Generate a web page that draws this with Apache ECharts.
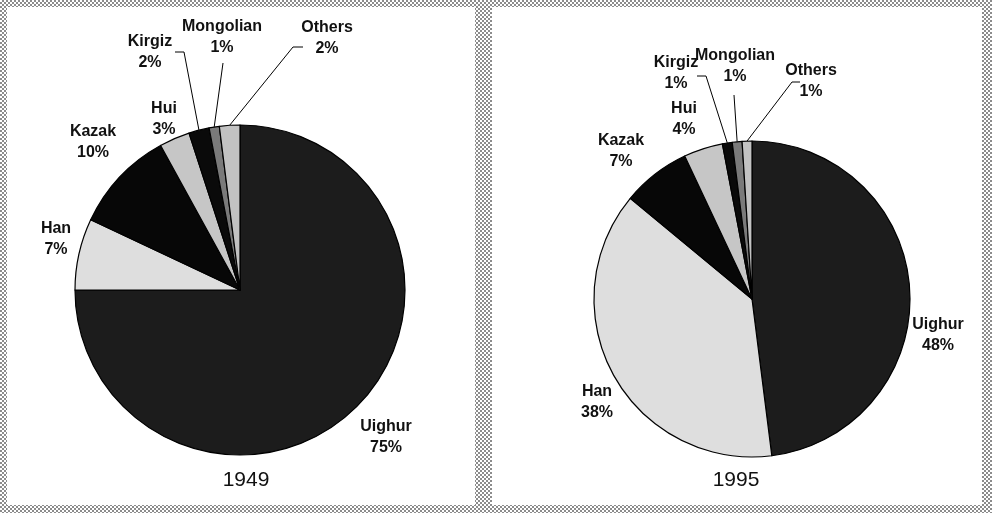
<!DOCTYPE html>
<html>
<head>
<meta charset="utf-8">
<script src="https://cdn.jsdelivr.net/npm/echarts@6/dist/echarts.min.js"></script>
<style>
html,body{margin:0;padding:0;background:#fff;}
#chart{width:992px;height:513px;
background-color:#fff;
background-image:repeating-conic-gradient(#8c8c8c 0% 25%, #ffffff 0% 50%);
background-size:4px 4px;}
</style>
</head>
<body>
<div id="chart"></div>
<script>
// ---- data ----
const categories = ['Uighur', 'Han', 'Kazak', 'Hui', 'Kirgiz', 'Mongolian', 'Others'];
const values1949 = [75, 7, 10, 3, 2, 1, 2];
const values1995 = [48, 38, 7, 4, 1, 1, 1];
const years = ['1949', '1995'];

// ---- styling / layout ----
const sliceColors = ['#1c1c1c', '#dedede', '#070707', '#c6c6c6', '#0a0a0a', '#7a7a7a', '#c2c2c2'];
const leaderLine = [false, false, false, false, true, true, true];
const pieLayout = [
  { center: [240, 290], radius: 165, title: [246, 480] },
  { center: [752, 299], radius: 158, title: [736, 480] }
];
// label text centres and leader-line elbow/end points (layout only)
const labelPos = [
  [[386, 437], [56, 239], [93, 142], [164, 119], [150, 52], [222, 37], [327, 38]],
  [[938, 335], [597, 402], [621, 151], [684, 119], [676, 73], [735, 66], [811, 81]]
];
const linePts = [
  [null, null, null, null, [[184, 52], [175, 52]], [[223, 63]], [[293, 47], [303, 47]]],
  [null, null, null, null, [[706, 76], [697, 76]], [[734, 95]], [[792, 82], [800, 82]]]
];

const chart = echarts.init(document.getElementById('chart'), null, { renderer: 'canvas' });
const allValues = [values1949, values1995];

const series = allValues.map((vals, si) => ({
  type: 'pie',
  center: pieLayout[si].center,
  radius: [0, pieLayout[si].radius],
  startAngle: 90,
  clockwise: true,
  avoidLabelOverlap: false,
  animation: false,
  silent: true,
  itemStyle: { borderColor: '#000', borderWidth: 1.2 },
  label: {
    show: true,
    position: 'outside',
    fontFamily: 'Liberation Sans, Arial, sans-serif',
    fontSize: 16,
    fontWeight: 'bold',
    color: '#111',
    lineHeight: 21,
    align: 'center',
    formatter: p => p.name + '\n' + p.value + '%'
  },
  labelLine: { show: true, length: 10, length2: 10, lineStyle: { color: '#000', width: 1 } },
  labelLayout: function (params) {
    const i = params.dataIndex;
    const pos = labelPos[si][i];
    const out = { x: pos[0], y: pos[1], align: 'center', verticalAlign: 'middle' };
    if (linePts[si][i] && params.labelLinePoints) {
      out.labelLinePoints = [params.labelLinePoints[0]].concat(linePts[si][i]);
    }
    return out;
  },
  data: categories.map((c, i) => ({
    name: c,
    value: vals[i],
    itemStyle: { color: sliceColors[i] },
    labelLine: { show: leaderLine[i] }
  }))
}));

const option = {
  backgroundColor: 'transparent',
  graphic: [
    { type: 'rect', z: -10, shape: { x: 7, y: 7, width: 468, height: 498 }, style: { fill: '#fff' }, silent: true },
    { type: 'rect', z: -10, shape: { x: 492, y: 7, width: 490, height: 498 }, style: { fill: '#fff' }, silent: true },
    { type: 'text', x: pieLayout[0].title[0], y: pieLayout[0].title[1],
      style: { text: years[0], font: '21px "Liberation Sans", Arial, sans-serif', fill: '#111', align: 'center', verticalAlign: 'middle' } },
    { type: 'text', x: pieLayout[1].title[0], y: pieLayout[1].title[1],
      style: { text: years[1], font: '21px "Liberation Sans", Arial, sans-serif', fill: '#111', align: 'center', verticalAlign: 'middle' } }
  ],
  series: series
};
chart.setOption(option);
</script>
</body>
</html>
